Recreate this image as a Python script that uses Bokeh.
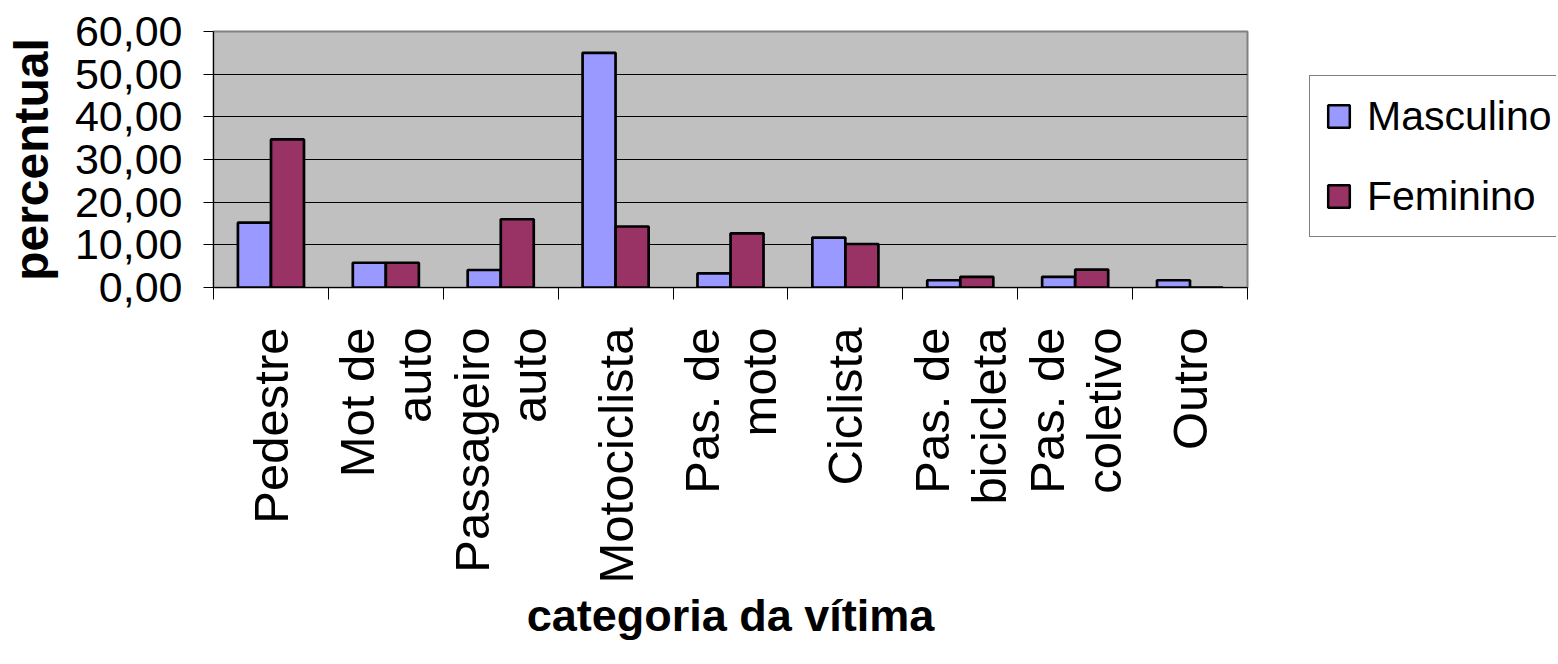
import math
from bokeh.plotting import figure
from bokeh.layouts import row
from bokeh.models import FactorRange, LinearAxis, FixedTicker, Legend, LegendItem, Range1d
from bokeh.transform import dodge
from bokeh.embed import file_html
from bokeh.resources import INLINE

categories = ["Pedestre", "Mot de auto", "Passageiro auto", "Motociclista", "Pas. de moto",
              "Ciclista", "Pas. de bicicleta", "Pas. de coletivo", "Outro"]
category_labels = ["Pedestre", "Mot de\nauto", "Passageiro\nauto", "Motociclista", "Pas. de\nmoto",
                   "Ciclista", "Pas. de\nbicicleta", "Pas. de\ncoletivo", "Outro"]
masculino = [15.2, 5.8, 4.1, 55.0, 3.3, 11.7, 1.7, 2.5, 1.7]
feminino = [34.7, 5.8, 16.0, 14.3, 12.7, 10.2, 2.5, 4.2, 0.0]
y_ticks = [0, 10, 20, 30, 40, 50, 60]
series_names = ["Masculino", "Feminino"]
series_colors = ["#9999FF", "#993366"]

FONT = "Liberation Sans"
H = 662

p = figure(x_range=FactorRange(factors=categories, range_padding=0),
           y_range=Range1d(0, 60),
           width=1256, height=H,
           x_axis_location=None,
           output_backend="svg", toolbar_location=None,
           min_border_left=213, min_border_top=31, min_border_right=9, min_border_bottom=375)

p.background_fill_color = "#C0C0C0"
p.border_fill_color = "white"
p.outline_line_color = "#808080"
p.outline_line_width = 2

data = dict(cat=categories, m=masculino, f=feminino)
rm = p.vbar(x=dodge("cat", -0.144, range=p.x_range), top="m", width=0.287, source=data,
            fill_color=series_colors[0], line_color="black", line_width=2.7)
rf = p.vbar(x=dodge("cat", 0.144, range=p.x_range), top="f", width=0.287, source=data,
            fill_color=series_colors[1], line_color="black", line_width=2.7)

# y axis
yt = FixedTicker(ticks=y_ticks)
yax = p.yaxis[0]
yax.ticker = yt
yax.major_label_overrides = {t: f"{t:.2f}".replace(".", ",") for t in y_ticks}
yax.major_label_text_font = FONT
yax.major_label_text_font_size = "43px"
yax.major_label_text_color = "black"
yax.axis_line_color = "black"
yax.major_tick_out = 10
yax.major_tick_in = 0
yax.major_tick_line_color = "black"
yax.minor_tick_line_color = None
yax.major_label_standoff = 21
yax.axis_label = "percentual"
yax.axis_label_text_font = FONT
yax.axis_label_text_font_style = "bold"
yax.axis_label_text_font_size = "48px"
yax.axis_label_text_color = "black"
yax.axis_label_standoff = 14

p.ygrid.ticker = yt
p.ygrid.grid_line_color = "black"
p.ygrid.grid_line_width = 1
p.xgrid.visible = False

# x axis: labels at category centres, ticks at category boundaries
n = len(categories)
centers = [i + 0.5 for i in range(n)]
bounds = list(range(n + 1))
xax = LinearAxis(ticker=FixedTicker(ticks=centers, minor_ticks=bounds))
xax.major_label_overrides = {c: lab for c, lab in zip(centers, category_labels)}
xax.major_label_orientation = math.pi / 2
xax.major_label_text_font = FONT
xax.major_label_text_font_size = "49px"
xax.major_label_text_color = "black"
xax.major_label_text_line_height = 1.05
xax.major_tick_line_color = None
xax.major_tick_out = 6
xax.minor_tick_out = 12
xax.minor_tick_in = 0
xax.minor_tick_line_color = "black"
xax.axis_line_color = "black"
xax.major_label_standoff = 28
xax.axis_label = "categoria da vítima"
xax.axis_label_text_font = FONT
xax.axis_label_text_font_style = "bold"
xax.axis_label_text_font_size = "45px"
xax.axis_label_text_color = "black"
xax.axis_label_standoff = 4
p.add_layout(xax, "below")

# legend panel to the right of the plot (its frame is aligned with the main frame)
p2 = figure(width=300, height=H, x_range=FactorRange(factors=categories), y_range=Range1d(0, 60),
            x_axis_location=None, y_axis_location=None,
            output_backend="svg", toolbar_location=None,
            min_border_left=0, min_border_right=0, min_border_bottom=0, min_border_top=0)
p2.outline_line_color = None
p2.background_fill_color = "white"
p2.border_fill_color = "white"
p2.xgrid.visible = False
p2.ygrid.visible = False
lm = p2.vbar(x="cat", top="m", width=0.3, source=data, visible=False,
             fill_color=series_colors[0], line_color="black", line_width=2.5)
lf = p2.vbar(x="cat", top="f", width=0.3, source=data, visible=False,
             fill_color=series_colors[1], line_color="black", line_width=2.5)

legend = Legend(items=[LegendItem(label=series_names[0], renderers=[lm]),
                       LegendItem(label=series_names[1], renderers=[lf])],
                location=(53, 50), margin=0, padding=15, spacing=30,
                glyph_width=27, glyph_height=28, label_standoff=15, label_height=50,
                label_text_font=FONT, label_text_font_size="41px", label_text_color="black",
                border_line_color="black", border_line_width=1,
                background_fill_color="white", background_fill_alpha=1)
p2.add_layout(legend, "center")

layout = row(p, p2, spacing=0)
open("out.html", "w").write(file_html(layout, INLINE))
